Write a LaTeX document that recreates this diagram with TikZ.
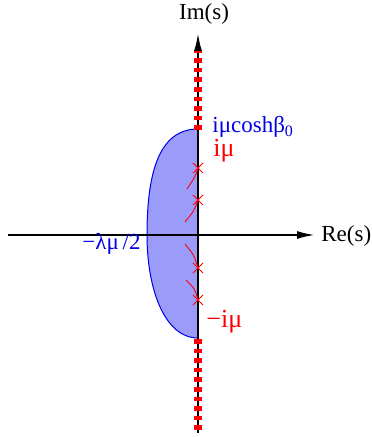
\documentclass[tikz,border=0pt]{standalone}
\usepackage{fontspec}
\setmainfont{Liberation Serif}
\usepackage{tikz}
\usetikzlibrary{arrows.meta,positioning,calc}
\definecolor{cutred}{RGB}{255,0,0}
\definecolor{regblue}{RGB}{0,0,230}
\definecolor{regfill}{RGB}{155,155,250}

\begin{document}
\begin{tikzpicture}[x=0.5pt, y=0.5pt,
    axis/.style={line width=1pt, -{Latex[length=9pt,width=4pt]}},
    cut/.style={cutred, line width=3.6pt, dash pattern=on 2.3pt off 2.5pt},
    pole/.style={cutred, line width=0.45pt},
    lbl/.style={font=\fontsize{11.5}{13}\selectfont, inner sep=0pt},
    rlbl/.style={lbl, cutred, font=\fontsize{13}{15}\selectfont},
]
\useasboundingbox (-198,-202) rectangle (173,235);

% shaded region
\fill[regfill] (0,106) .. controls (-40,106) and (-51,60) .. (-51,0)
    .. controls (-51,-55) and (-33,-103) .. (0,-103) -- cycle;
\draw[regblue, line width=0.5pt] (0,106) .. controls (-40,106) and (-51,60) .. (-51,0)
    .. controls (-51,-55) and (-33,-103) .. (0,-103);

% axes
\coordinate (xl) at (-190,0);
\coordinate (xr) at (117,0);
\coordinate (yb) at (0,-198);
\coordinate (yt) at (0,202);
\draw[axis] (xl) -- (xr);
\draw[axis] (yb) -- (yt);

% branch cuts
\coordinate (cuttop) at (0,105);
\coordinate (cutend) at (0,184);
\coordinate (cutbot) at (0,-104);
\coordinate (cutlow) at (0,-198);
\draw[cut] (cuttop) -- (cutend);
\draw[cut] (cutbot) -- (cutlow);

% poles and their trajectories
\foreach \n/\y in {p1/67, p2/35, p3/-33, p4/-65}{
    \coordinate (\n) at (0,\y);
    \draw[pole] ($(\n)+(-5,-5)$) -- ($(\n)+(5,5)$);
    \draw[pole] ($(\n)+(-5,5)$) -- ($(\n)+(5,-5)$);
}
\coordinate (t1) at (-11,46);
\coordinate (t2) at (-13,13);
\coordinate (t3) at (-13,-9);
\coordinate (t4) at (-12,-45);
\draw[pole] (p1) .. controls (-3,58) .. (t1);
\draw[pole] (p2) .. controls (-4,24) .. (t2);
\draw[pole] (t3) .. controls (-4,-20) .. (p3);
\draw[pole] (t4) .. controls (-3,-54) .. (p4);

% labels
\node[lbl] (im) at (6,221) {Im(s)};
\node[lbl, anchor=west] (re) at (123,-1) {Re(s)};
\node[lbl, anchor=base west, regblue] (upper) at (14,102)
    {iμcoshβ\raisebox{-0.35ex}{\fontsize{8}{9}\selectfont 0}};
\node[rlbl, anchor=base west] (ipl) at (15,78) {iμ};
\node[rlbl, anchor=base west] (imi) at (8,-93) {−iμ};
\node[lbl, anchor=base east, regblue] (lam) at (-57,-15) {−λμ\,/2};
\end{tikzpicture}
\end{document}
